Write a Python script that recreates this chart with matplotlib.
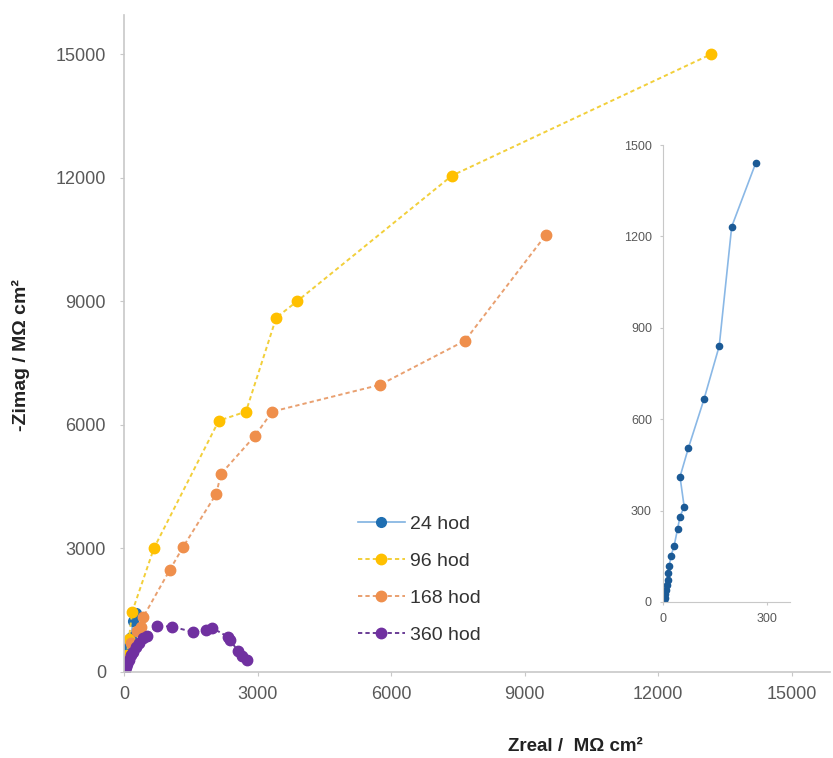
import matplotlib
matplotlib.use("Agg")
import matplotlib.pyplot as plt

plt.rcParams['font.family'] = ['Liberation Sans', 'DejaVu Sans']

# 24 hod (also shown enlarged in the inset)
x_24 = [2, 5, 7, 9, 11, 13, 15, 18, 23, 32, 42, 49, 61, 49, 73, 118, 162, 198, 267]
y_24 = [3, 12, 25, 39, 56, 72, 94, 119, 151, 184, 240, 280, 313, 411, 505, 665, 840, 1232, 1440]

# 96 hod
x_96 = [5, 20, 60, 110, 180, 670, 2130, 2740, 3420, 3890, 7370, 13200]
y_96 = [30, 150, 400, 800, 1450, 3000, 6100, 6320, 8600, 9000, 12050, 15000]

# 168 hod
x_168 = [10, 60, 150, 300, 380, 430, 1030, 1330, 2070, 2180, 2940, 3330, 5750, 7660, 9480]
y_168 = [50, 300, 700, 1000, 1100, 1330, 2480, 3040, 4320, 4810, 5730, 6320, 6970, 8040, 10610]

# 360 hod
x_360 = [5, 20, 40, 70, 110, 150, 200, 270, 340, 430, 520, 740, 1080, 1550, 1840, 1980,
         2340, 2380, 2560, 2650, 2760]
y_360 = [10, 50, 120, 200, 300, 400, 480, 600, 700, 826, 874, 1120, 1100, 970, 1020, 1070,
         850, 780, 510, 390, 290]

labels = ["24 hod", "96 hod", "168 hod", "360 hod"]
main_ticks = [0, 3000, 6000, 9000, 12000, 15000]
inset_yticks = [0, 300, 600, 900, 1200, 1500]
inset_xticks = [0, 300]

spine_c = '#c8c8c8'
tick_c = '#595959'

fig = plt.figure(figsize=(8.33, 7.58), dpi=100)
ax = fig.add_axes([0.1489, 0.1135, 0.8475, 0.8668])

dash = (0, (2.2, 1.6))
ax.plot(x_24, y_24, '-', color='#7fb2e0', lw=1.2, marker='o', ms=7,
        mfc='#1f6fb2', mec='#1f6fb2', label=labels[0])
ax.plot(x_96, y_96, linestyle=dash, color='#f2cf3a', lw=1.4, marker='o', ms=7.5,
        mfc='#ffc000', mec='#ffc000', label=labels[1])
ax.plot(x_168, y_168, linestyle=dash, color='#e9a070', lw=1.4, marker='o', ms=7.5,
        mfc='#ef8f4c', mec='#ef8f4c', label=labels[2])
ax.plot(x_360, y_360, linestyle=dash, color='#6a3d96', lw=1.4, marker='o', ms=7.5,
        mfc='#7030a0', mec='#7030a0', label=labels[3])

ax.set_xlim(0, 15865)
ax.set_ylim(0, 15950)
ax.set_xticks(main_ticks)
ax.set_yticks(main_ticks)
for s in ['top', 'right']:
    ax.spines[s].set_visible(False)
for s in ['left', 'bottom']:
    ax.spines[s].set_color(spine_c)
    ax.spines[s].set_linewidth(1.2)
ax.tick_params(axis='both', colors=spine_c, labelcolor=tick_c, labelsize=13, length=3)
ax.tick_params(axis='y', pad=10)
ax.tick_params(axis='x', pad=7)

ax.set_xlabel("Zreal /  MΩ cm²", fontsize=13.5, fontweight='bold', color='#222222')
ax.xaxis.set_label_coords((575 - 124) / 706, (672 - 738) / 657)
ax.set_ylabel("-Zimag / MΩ cm²", fontsize=14, fontweight='bold', color='#222222')
ax.yaxis.set_label_coords((30 - 124) / 706, (672 - 355) / 657)

ax.legend(frameon=False, loc='upper left', bbox_to_anchor=(358 / 833, 1 - 515 / 758),
          bbox_transform=fig.transFigure, borderpad=0, borderaxespad=0,
          handlelength=2.4, handletextpad=0.25, labelspacing=1.0,
          prop={'size': 14}, labelcolor='#333333')

# inset with the 24 hod data
ins = fig.add_axes([663 / 833, 1 - 602 / 758, 127 / 833, (602 - 145) / 758])
ins.plot(x_24, y_24, '-', color='#8ab8e6', lw=1.2, marker='o', ms=4.5,
         mfc='#1b5a96', mec='#1b5a96')
ins.set_xlim(0, 366)
ins.set_ylim(0, 1500)
ins.set_xticks(inset_xticks)
ins.set_yticks(inset_yticks)
for s in ['top', 'right']:
    ins.spines[s].set_visible(False)
for s in ['left', 'bottom']:
    ins.spines[s].set_color(spine_c)
ins.tick_params(axis='both', colors=spine_c, labelcolor=tick_c, labelsize=9, length=2)
ins.tick_params(axis='y', pad=6)
ins.tick_params(axis='x', pad=6)
ins.patch.set_alpha(0)

fig.savefig("out.png", dpi=100)
